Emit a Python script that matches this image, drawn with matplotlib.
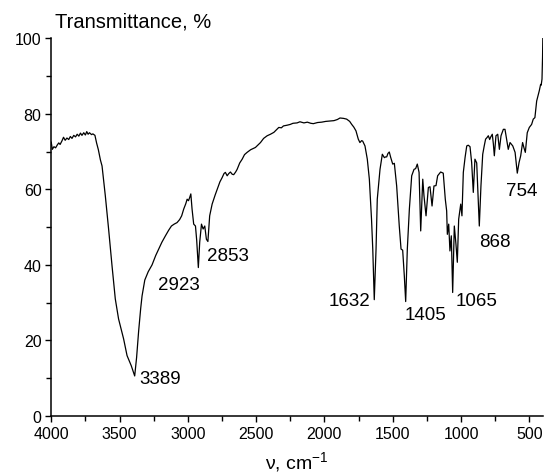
import matplotlib
matplotlib.use("Agg")
import matplotlib.pyplot as plt
from matplotlib.ticker import MultipleLocator

plt.rcParams['font.family'] = ['Liberation Sans', 'DejaVu Sans']
plt.rcParams['mathtext.fontset'] = 'custom'
plt.rcParams['mathtext.rm'] = 'Liberation Sans'
plt.rcParams['mathtext.default'] = 'regular'

# IR spectrum: wavenumber (cm-1) and transmittance (%)
wavenumber = [
    4000, 3992, 3980, 3968, 3955, 3945, 3935, 3922, 3910, 3898, 3885, 3872, 3860, 3848,
    3835, 3822, 3810, 3798, 3786, 3775, 3762, 3750, 3740, 3730, 3720, 3705, 3695, 3680,
    3668, 3655, 3640, 3628, 3604, 3580, 3555, 3531, 3507, 3470, 3445, 3414, 3400, 3389,
    3375, 3360, 3345, 3335, 3315, 3290, 3262, 3235, 3213, 3190, 3164, 3140, 3120, 3100,
    3079, 3060, 3045, 3030, 3015, 3005, 2995, 2986, 2978, 2969, 2957, 2944, 2935, 2923,
    2913, 2900, 2888, 2876, 2864, 2853, 2840, 2822, 2800, 2785, 2765, 2749, 2735, 2725,
    2712, 2700, 2688, 2675, 2664, 2650, 2639, 2620, 2602, 2585, 2566, 2540, 2505, 2485,
    2468, 2445, 2419, 2395, 2370, 2350, 2334, 2315, 2300, 2272, 2250, 2230, 2200, 2179,
    2150, 2125, 2100, 2081, 2050, 2020, 1990, 1959, 1930, 1905, 1886, 1860, 1837, 1815,
    1800, 1785, 1769, 1752, 1740, 1728, 1720, 1703, 1686, 1671, 1666, 1655, 1646, 1635,
    1622, 1613, 1593, 1576, 1561, 1552, 1544, 1535, 1525, 1515, 1500, 1488, 1471, 1452,
    1439, 1427, 1415, 1405, 1393, 1378, 1361, 1344, 1332, 1320, 1307, 1295, 1280, 1271,
    1256, 1239, 1227, 1212, 1198, 1183, 1171, 1149, 1130, 1115, 1105, 1100, 1090, 1081,
    1071, 1061, 1049, 1037, 1027, 1017, 1002, 993, 983, 970, 958, 947, 934, 922, 910,
    898, 885, 866, 854, 841, 830, 820, 810, 800, 790, 782, 771, 763, 756, 744, 731, 719,
    707, 690, 678, 666, 654, 641, 621, 604, 588, 575, 563, 549, 539, 529, 515, 500, 483,
    471, 459, 446, 437, 427, 417, 413, 407, 403, 401,
]
transmittance = [
    72.5, 70.6, 71.3, 71.0, 71.8, 72.3, 71.9, 72.8, 73.8, 73.0, 73.6, 73.2, 74.0, 73.5,
    74.3, 73.9, 74.6, 74.1, 74.9, 74.3, 75.0, 74.4, 75.3, 74.6, 75.0, 74.5, 74.7, 74.3,
    72.3, 70.5, 67.8, 66.2, 58.3, 49.5, 39.8, 31.0, 25.7, 20.4, 16.0, 13.3, 11.8, 10.6,
    15.5, 22.5, 28.5, 31.8, 36.0, 38.2, 40.0, 42.5, 44.2, 46.0, 47.7, 49.2, 50.3, 50.8,
    51.2, 52.0, 53.0, 54.8, 56.2, 57.4, 57.0, 57.9, 58.8, 54.8, 50.8, 50.3, 46.5, 39.3,
    46.0, 50.8, 49.5, 50.3, 46.8, 46.2, 53.0, 56.1, 58.5, 60.0, 62.0, 63.1, 64.2, 64.5,
    63.6, 64.2, 64.6, 64.0, 63.9, 64.6, 65.3, 67.0, 68.0, 69.2, 69.8, 70.5, 71.1, 71.8,
    72.4, 73.5, 74.2, 74.6, 75.1, 75.8, 76.4, 76.3, 76.8, 77.0, 77.2, 77.5, 77.6, 77.9,
    77.6, 77.8, 77.5, 77.4, 77.7, 77.8, 78.0, 78.1, 78.2, 78.5, 78.9, 78.8, 78.6, 78.0,
    77.2, 76.5, 75.5, 73.3, 72.4, 72.9, 72.8, 71.5, 68.0, 62.7, 59.2, 52.0, 44.2, 30.8,
    44.2, 57.4, 65.3, 69.3, 68.4, 68.6, 68.6, 69.5, 69.9, 68.5, 66.7, 66.9, 60.9, 50.3,
    44.2, 43.9, 37.1, 30.3, 44.2, 54.8, 63.6, 65.3, 65.5, 66.7, 64.5, 49.0, 62.7, 58.3,
    53.0, 60.5, 60.7, 55.6, 60.9, 61.0, 63.6, 64.6, 64.3, 57.4, 54.3, 48.1, 50.8, 43.7,
    47.7, 32.7, 50.3, 45.5, 40.7, 52.1, 56.1, 53.0, 64.5, 68.5, 71.5, 71.7, 71.3, 67.1,
    59.2, 68.0, 67.0, 50.3, 60.9, 69.3, 71.5, 73.3, 73.7, 74.2, 73.2, 73.9, 74.6, 72.0,
    68.9, 74.2, 74.6, 70.6, 74.2, 75.9, 75.9, 73.3, 70.6, 72.4, 71.5, 69.8, 64.3, 67.1,
    68.9, 72.4, 71.0, 69.8, 75.0, 76.4, 77.2, 78.6, 79.0, 83.4, 84.7, 86.1, 87.8, 87.6,
    89.2, 95.0, 100.0,
]

# peak labels
peak_labels = ["3389", "2923", "2853", "1632", "1405", "1065", "868", "754"]
label_x = [3357, 3218, 2860, 1667, 1410, 1039, 868, 674]
label_y = [9.8, 34.9, 42.4, 30.5, 27.0, 30.5, 46.1, 59.6]
label_ha = ["left", "left", "left", "right", "left", "left", "left", "left"]

fig = plt.figure(figsize=(5.45, 4.77), dpi=100)
ax = fig.add_axes([0.094, 0.1258, 0.903, 0.7918])

ax.plot(wavenumber, transmittance, color="black", lw=0.9)

for txt, x, y, ha in zip(peak_labels, label_x, label_y, label_ha):
    ax.text(x, y, txt, ha=ha, va="center", fontsize=13.5)

ax.set_xlim(4000, 397)
ax.set_ylim(0, 100)
ax.xaxis.set_major_locator(MultipleLocator(500))
ax.xaxis.set_minor_locator(MultipleLocator(250))
ax.yaxis.set_major_locator(MultipleLocator(20))
ax.yaxis.set_minor_locator(MultipleLocator(10))
ax.tick_params(which="both", direction="out", width=1, labelsize=11.5, pad=3)
ax.tick_params(which="major", length=4)
ax.tick_params(which="minor", length=3.5)

for side in ["top", "right"]:
    ax.spines[side].set_visible(False)
for side in ["left", "bottom"]:
    ax.spines[side].set_linewidth(1.1)

ax.set_xlabel(r"ν, cm$^{-1}$", fontsize=14, labelpad=6)
fig.text(55 / 545, 1 - 22 / 477, "Transmittance, %", fontsize=14.5, va="center", ha="left")

fig.savefig("out.png", dpi=100)
